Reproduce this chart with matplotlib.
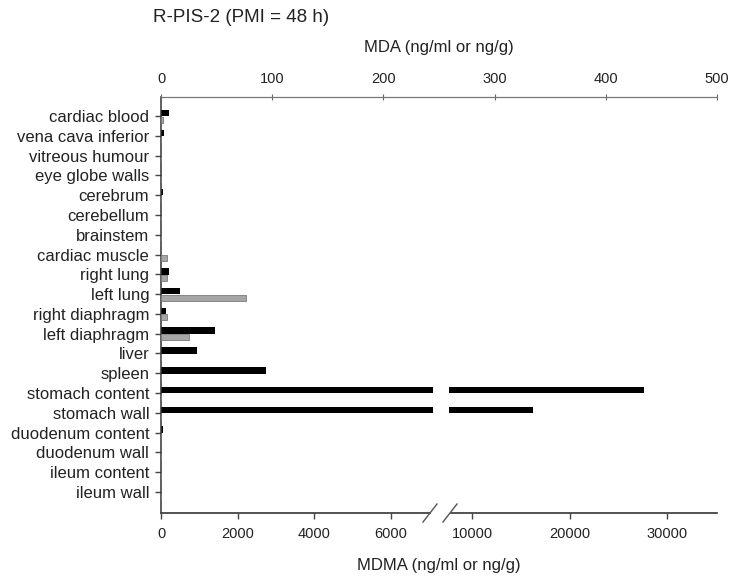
import numpy as np
import matplotlib
matplotlib.use("Agg")
import matplotlib.pyplot as plt
from matplotlib.lines import Line2D

plt.rcParams['font.family'] = ['Liberation Sans', 'DejaVu Sans']

categories = ["cardiac blood", "vena cava inferior", "vitreous humour", "eye globe walls",
              "cerebrum", "cerebellum", "brainstem", "cardiac muscle", "right lung",
              "left lung", "right diaphragm", "left diaphragm", "liver", "spleen",
              "stomach content", "stomach wall", "duodenum content", "duodenum wall",
              "ileum content", "ileum wall"]
mdma = [210, 80, 0, 0, 60, 0, 0, 0, 200, 500, 130, 1410, 940, 2740,
        27600, 16300, 50, 0, 0, 0]
mda = [2, 0, 0, 0, 0, 0, 0, 5, 5, 76, 5, 25, 0, 0,
       0, 0, 0, 0, 0, 0]
bottom_ticks = [0, 2000, 4000, 6000, 10000, 20000, 30000]
top_ticks = [0, 100, 200, 300, 400, 500]

# broken-axis scale (left segment 0..L, right segment R..max)
L, R = 7100.0, 7650.0
A = 0.0383      # px per unit, left segment
B = 0.00975     # px per unit, right segment
PL = L * A
PR = 311.0 - (10000.0 - R) * B


def fwd(v):
    v = np.asarray(v, dtype=float)
    return np.where(v <= L, v * A,
                    np.where(v >= R, PR + (v - R) * B,
                             PL + (v - L) * (PR - PL) / (R - L)))


def inv(p):
    p = np.asarray(p, dtype=float)
    return np.where(p <= PL, p / A,
                    np.where(p >= PR, R + (p - PR) / B,
                             L + (p - PL) * (R - L) / (PR - PL)))


W, H = 744, 581
fig = plt.figure(figsize=(W / 100, H / 100), dpi=100)
ax = fig.add_axes([161 / W, 1 - 513 / H, (717 - 161) / W, (513 - 97) / H])
ax.set_xscale('function', functions=(fwd, inv))
xmax = float(inv(556.0))
ax.set_xlim(0, xmax)

y = np.arange(len(categories))
ax.barh(y - 0.15, mdma, height=0.33, color='#000000', zorder=2)
ax.axvspan(L, R, ymin=0.005, ymax=0.995, color='white', zorder=3, lw=0)

ax.set_ylim(len(categories) - 1 + 1.06, -0.96)
ax.set_yticks(y)
ax.set_yticklabels(categories, fontsize=12, color='#222222')
ax.tick_params(axis='y', direction='out', length=4.5, width=1, color='#444444', pad=4)

ax.set_xticks(bottom_ticks)
ax.set_xticklabels([str(t) for t in bottom_ticks], fontsize=10.5, color='#222222')
ax.xaxis.set_minor_locator(matplotlib.ticker.NullLocator())
ax.tick_params(axis='x', direction='out', length=4, width=1, color='#444444', pad=6)
ax.set_xlabel("MDMA (ng/ml or ng/g)", fontsize=12, color='#222222', labelpad=12)

for s in ['right']:
    ax.spines[s].set_visible(False)
ax.spines['top'].set_visible(False)
ax.spines['left'].set_color('#333333')
ax.spines['left'].set_linewidth(1.1)
ax.spines['bottom'].set_color('#444444')
ax.spines['bottom'].set_linewidth(1.3)

ax2 = ax.twiny()
ax2.set_xlim(0, 500)
ax2.barh(y + 0.18, mda, height=0.3, color='#a6a6a6', edgecolor='#7a7a7a', linewidth=0.6, zorder=2)
ax2.set_xticks(top_ticks)
ax2.set_xticklabels([str(t) for t in top_ticks], fontsize=10.5, color='#222222')
ax2.tick_params(axis='x', direction='inout', length=4, width=0.8, color='#666666', pad=6)
ax2.set_xlabel("MDA (ng/ml or ng/g)", fontsize=12, color='#222222', labelpad=14)
for s in ['right', 'bottom', 'left']:
    ax2.spines[s].set_visible(False)
ax2.spines['top'].set_color('#777777')
ax2.spines['top'].set_linewidth(0.9)

# break marks on the bottom axis
def fx(px):
    return px / W


def fy(py):
    return 1 - py / H

fig.add_artist(Line2D([fx(433), fx(448)], [fy(513), fy(513)], color='white', lw=3, zorder=10))
for cx in (430, 450):
    fig.add_artist(Line2D([fx(cx - 7), fx(cx + 7)], [fy(522), fy(504)],
                          color='#555555', lw=1.0, zorder=11))

fig.text(153 / W, fy(18), "R-PIS-2 (PMI = 48 h)", fontsize=13.5, color='#222222',
         ha='left', va='center')

fig.savefig("out.png", dpi=100)
